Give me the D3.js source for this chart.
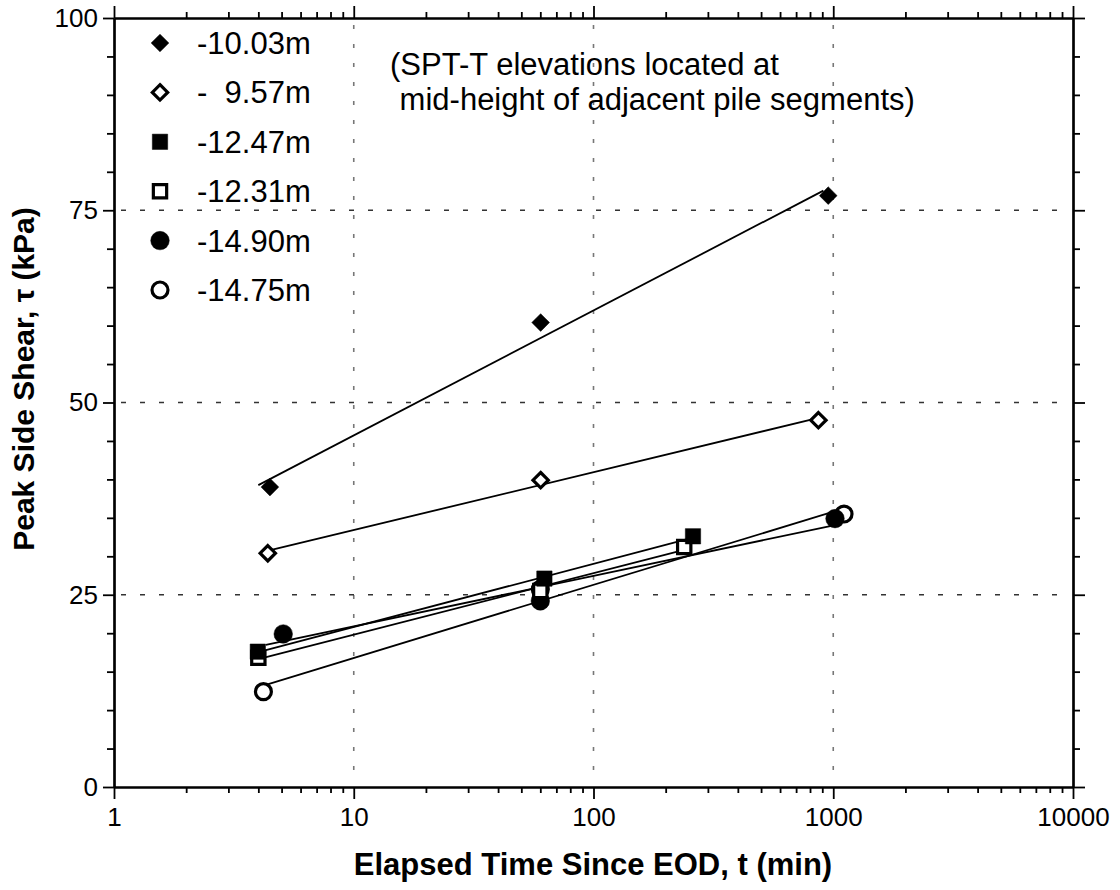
<!DOCTYPE html>
<html>
<head>
<meta charset="utf-8">
<script src="https://cdn.jsdelivr.net/npm/d3@7"></script>
<style>
  body { margin: 0; background: #fff; }
  svg { font-family: "Liberation Sans", Arial, sans-serif; }
</style>
</head>
<body>
<div id="chart"></div>
<script>
// series labels (elevation of SPT-T) and marker style
const seriesNames = ["-10.03m", "-  9.57m", "-12.47m", "-12.31m", "-14.90m", "-14.75m"];
const shapes = ["diamond", "diamond", "square", "square", "circle", "circle"];
const filled = [true, false, true, false, true, false];

// elapsed time (min) and peak side shear (kPa)
const timeM1003 = [4.47, 60.2, 953];
const tauM1003 = [39.0, 60.4, 76.9];
const timeM957 = [4.38, 60.2, 867];
const tauM957 = [30.4, 39.9, 47.7];
const timeM1247 = [3.98, 62.4, 260];
const tauM1247 = [17.6, 27.1, 32.6];
const timeM1231 = [4.0, 60, 239];
const tauM1231 = [16.8, 25.5, 31.2];
const timeM1490 = [5.08, 60, 1017];
const tauM1490 = [19.9, 24.2, 34.9];
const timeM1475 = [4.2, 60, 1109];
const tauM1475 = [12.4, 25.7, 35.5];

// time range covered by each fitted (semi-log) trend line
const fitFrom = [4.0, 4.4, 4.0, 4.0, 4.3, 4.2];
const fitTo = [910, 867, 260, 239, 1017, 1109];

// axis ticks
const xMajor = [1, 10, 100, 1000, 10000];
const yMajor = [0, 25, 50, 75, 100];

const noteLines = ["(SPT-T elevations located at", " mid-height of adjacent pile segments)"];

const times = [timeM1003, timeM957, timeM1247, timeM1231, timeM1490, timeM1475];
const taus = [tauM1003, tauM957, tauM1247, tauM1231, tauM1490, tauM1475];
const series = seriesNames.map((name, i) => ({
  name, shape: shapes[i], filled: filled[i],
  points: times[i].map((t, j) => ({t, v: taus[i][j]})),
  from: fitFrom[i], to: fitTo[i]
}));

const W = 1120, H = 890;
const plotL = 114, plotR = 1073, plotT = 18, plotB = 787;

const svg = d3.select("#chart").append("svg")
  .attr("width", W).attr("height", H);

const x = d3.scaleLog().domain([1, 10000]).range([plotL, plotR]);
const y = d3.scaleLinear().domain([0, 100]).range([plotB, plotT]);

const xMinor = [];
xMajor.slice(0, -1).forEach(d => { for (let k = 2; k <= 9; k++) xMinor.push(d * k); });
const yMinor = d3.range(0, 101, 5).filter(d => d % 25 !== 0);

// grid
svg.append("g").selectAll("line")
  .data([10, 100, 1000]).join("line")
  .attr("x1", d => x(d)).attr("x2", d => x(d))
  .attr("y1", plotB - 17).attr("y2", plotT)
  .attr("stroke", "#777").attr("stroke-width", 1.6)
  .attr("stroke-dasharray", "4,15");
svg.append("g").selectAll("line")
  .data([25, 50, 75]).join("line")
  .attr("x1", plotL + 7).attr("x2", plotR - 5)
  .attr("y1", d => y(d)).attr("y2", d => y(d))
  .attr("stroke", "#333").attr("stroke-width", 1.3)
  .attr("stroke-dasharray", "5,14");

// axes: outward ticks on all four sides
function styleAxis(g) {
  g.select(".domain").attr("stroke-width", 2.2);
  g.selectAll(".tick line").attr("stroke-width", 1.8);
  g.selectAll("text").attr("fill", "#000").style("font-size", "26px")
    .style("font-family", "Liberation Sans, Arial, sans-serif");
}
const fmt = d3.format("d");

svg.append("g").attr("transform", `translate(0,${plotB})`)
  .call(d3.axisBottom(x).tickValues(xMajor).tickFormat(fmt).tickSize(12).tickSizeOuter(0).tickPadding(9))
  .call(styleAxis);
svg.append("g").attr("transform", `translate(0,${plotB})`)
  .call(d3.axisBottom(x).tickValues(xMinor).tickFormat("").tickSize(6).tickSizeOuter(0))
  .call(styleAxis);
svg.append("g").attr("transform", `translate(0,${plotT})`)
  .call(d3.axisTop(x).tickValues(xMajor).tickFormat("").tickSize(12).tickSizeOuter(0))
  .call(styleAxis);
svg.append("g").attr("transform", `translate(0,${plotT})`)
  .call(d3.axisTop(x).tickValues(xMinor).tickFormat("").tickSize(6).tickSizeOuter(0))
  .call(styleAxis);

svg.append("g").attr("transform", `translate(${plotL},0)`)
  .call(d3.axisLeft(y).tickValues(yMajor).tickFormat(fmt).tickSize(11).tickSizeOuter(0).tickPadding(5))
  .call(styleAxis);
svg.append("g").attr("transform", `translate(${plotL},0)`)
  .call(d3.axisLeft(y).tickValues(yMinor).tickFormat("").tickSize(7).tickSizeOuter(0))
  .call(styleAxis);
svg.append("g").attr("transform", `translate(${plotR},0)`)
  .call(d3.axisRight(y).tickValues(yMajor).tickFormat("").tickSize(12).tickSizeOuter(0))
  .call(styleAxis);
svg.append("g").attr("transform", `translate(${plotR},0)`)
  .call(d3.axisRight(y).tickValues(yMinor).tickFormat("").tickSize(7).tickSizeOuter(0))
  .call(styleAxis);

// least-squares fit of tau against log10(t)
function fit(points) {
  const xs = points.map(p => Math.log10(p.t)), ys = points.map(p => p.v);
  const mx = d3.mean(xs), my = d3.mean(ys);
  const b = d3.sum(xs, (v, i) => (v - mx) * (ys[i] - my)) / d3.sum(xs, v => (v - mx) ** 2);
  return t => my + b * (Math.log10(t) - mx);
}

const lineGen = d3.line().x(d => x(d.t)).y(d => y(d.v));
svg.append("g").selectAll("path")
  .data(series).join("path")
  .attr("d", s => {
    const f = fit(s.points);
    return lineGen([{t: s.from, v: f(s.from)}, {t: s.to, v: f(s.to)}]);
  })
  .attr("fill", "none").attr("stroke", "#000").attr("stroke-width", 1.8);

// markers
const symType = {diamond: d3.symbolDiamond2, square: d3.symbolSquare2, circle: d3.symbolCircle};
function symbolPath(shape, isFilled) {
  const size = shape === "diamond" ? (isFilled ? 200 : 150) : shape === "square" ? (isFilled ? 300 : 225) : (isFilled ? 270 : 200);
  return d3.symbol(symType[shape], size)();
}
function drawMarker(g, s) {
  g.append("path")
    .attr("d", symbolPath(s.shape, s.filled))
    .attr("fill", s.filled ? "#000" : "#fff")
    .attr("stroke", "#000")
    .attr("stroke-width", s.filled ? 0.5 : 3.2);
}

const markerLayer = svg.append("g");
series.slice().reverse().forEach(s => {
  s.points.forEach(p => {
    const g = markerLayer.append("g").attr("transform", `translate(${x(p.t)},${y(p.v)})`);
    drawMarker(g, s);
  });
});

// legend
const legend = svg.append("g");
series.forEach((s, i) => {
  const ry = 43 + i * 49.4;
  const g = legend.append("g").attr("transform", `translate(160,${ry})`);
  drawMarker(g, s);
  legend.append("text")
    .attr("x", 197).attr("y", ry + 11)
    .attr("xml:space", "preserve")
    .style("white-space", "pre")
    .style("font-size", "31px")
    .text(s.name);
});

// note
svg.append("g").selectAll("text")
  .data(noteLines).join("text")
  .attr("x", (d, i) => i === 0 ? 390 : 391)
  .attr("y", (d, i) => 75 + i * 35)
  .attr("xml:space", "preserve")
  .style("white-space", "pre")
  .style("font-size", "31px")
  .text(d => d);

// axis titles
svg.append("text")
  .attr("x", 593).attr("y", 875)
  .attr("text-anchor", "middle")
  .style("font-size", "31px").style("font-weight", "bold")
  .text("Elapsed Time Since EOD, t (min)");
svg.append("text")
  .attr("transform", "translate(34,379) rotate(-90)")
  .attr("text-anchor", "middle")
  .style("font-size", "30px").style("font-weight", "bold")
  .text("Peak Side Shear, τ (kPa)");
</script>
</body>
</html>
